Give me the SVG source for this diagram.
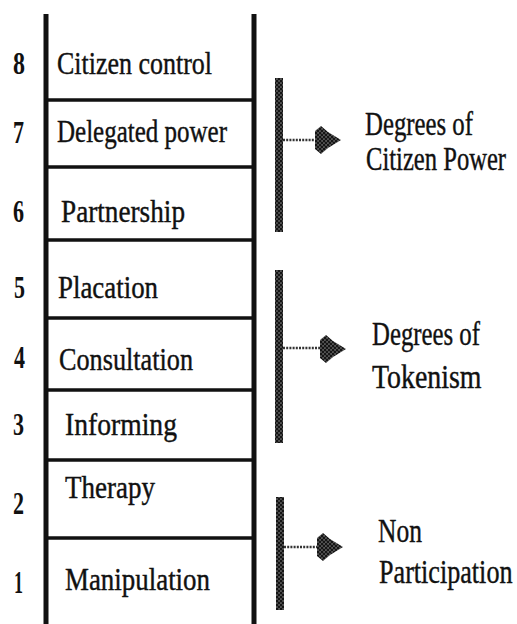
<svg xmlns="http://www.w3.org/2000/svg" width="517" height="624" viewBox="0 0 517 624">
  <style>
    .t { font-family: "Liberation Serif", "Times New Roman", serif; font-size: 31px; fill: #111; stroke: #111; stroke-width: 0.4; }
    .n { font-family: "Liberation Serif", "Times New Roman", serif; font-size: 31px; font-weight: bold; fill: #111; }
    .r { font-family: "Liberation Serif", "Times New Roman", serif; font-size: 33px; fill: #111; stroke: #111; stroke-width: 0.4; }
    .rail { stroke: #111; stroke-width: 5; }
    .rung { stroke: #111; stroke-width: 3.5; }
    .dash { stroke: #333; stroke-width: 2.5; stroke-dasharray: 2 1.2; fill: none; }
  </style>
  <defs>
    <pattern id="dots" width="4" height="4" patternUnits="userSpaceOnUse">
      <rect width="4" height="4" fill="#555"/>
      <circle cx="1" cy="1" r="1.3" fill="#151515"/>
      <circle cx="3" cy="3" r="1.3" fill="#151515"/>
    </pattern>
    <path id="head" d="M0,-9 L6,-14 L13,-8 L26,0 L13,8 L6,14 L0,9 Z" fill="url(#dots)"/>
  </defs>
  <rect width="517" height="624" fill="#fff"/>

  <g id="ladder">
    <line class="rail" x1="46" y1="14" x2="46" y2="624"/>
    <line class="rail" x1="254" y1="14" x2="254" y2="624"/>
    <line class="rung" x1="46" y1="100" x2="254" y2="100"/>
    <line class="rung" x1="46" y1="167" x2="254" y2="167"/>
    <line class="rung" x1="46" y1="240" x2="254" y2="240"/>
    <line class="rung" x1="46" y1="318" x2="254" y2="318"/>
    <line class="rung" x1="46" y1="390" x2="254" y2="390"/>
    <line class="rung" x1="46" y1="460" x2="254" y2="460"/>
    <line class="rung" x1="46" y1="538" x2="254" y2="538"/>
  </g>

  <g id="rung8"><text class="n" x="13" y="74" textLength="12" lengthAdjust="spacingAndGlyphs">8</text><text class="t" x="57" y="74" textLength="155" lengthAdjust="spacingAndGlyphs">Citizen control</text></g>
  <g id="rung7"><text class="n" x="13" y="143" textLength="11" lengthAdjust="spacingAndGlyphs">7</text><text class="t" x="57" y="142" textLength="170" lengthAdjust="spacingAndGlyphs">Delegated power</text></g>
  <g id="rung6"><text class="n" x="13" y="222" textLength="11" lengthAdjust="spacingAndGlyphs">6</text><text class="t" x="61" y="222" textLength="124" lengthAdjust="spacingAndGlyphs">Partnership</text></g>
  <g id="rung5"><text class="n" x="14" y="298" textLength="11" lengthAdjust="spacingAndGlyphs">5</text><text class="t" x="58" y="298" textLength="100" lengthAdjust="spacingAndGlyphs">Placation</text></g>
  <g id="rung4"><text class="n" x="14" y="368" textLength="11" lengthAdjust="spacingAndGlyphs">4</text><text class="t" x="59" y="370" textLength="134" lengthAdjust="spacingAndGlyphs">Consultation</text></g>
  <g id="rung3"><text class="n" x="13" y="435" textLength="11" lengthAdjust="spacingAndGlyphs">3</text><text class="t" x="65" y="435" textLength="112" lengthAdjust="spacingAndGlyphs">Informing</text></g>
  <g id="rung2"><text class="n" x="13" y="514" textLength="11" lengthAdjust="spacingAndGlyphs">2</text><text class="t" x="65" y="498" textLength="90" lengthAdjust="spacingAndGlyphs">Therapy</text></g>
  <g id="rung1"><text class="n" x="14" y="593" textLength="9" lengthAdjust="spacingAndGlyphs">1</text><text class="t" x="65" y="590" textLength="145" lengthAdjust="spacingAndGlyphs">Manipulation</text></g>

  <g id="citizen-power">
    <text class="r" transform="translate(365,135) scale(0.75,1)" textLength="144" lengthAdjust="spacingAndGlyphs">Degrees of</text>
    <text class="r" transform="translate(366,170) scale(0.745,1)" textLength="188" lengthAdjust="spacingAndGlyphs">Citizen Power</text>
  </g>
  <g id="tokenism">
    <text class="r" transform="translate(372,345) scale(0.75,1)" textLength="144" lengthAdjust="spacingAndGlyphs">Degrees of</text>
    <text class="r" transform="translate(372,388) scale(0.83,1)" textLength="132" lengthAdjust="spacingAndGlyphs">Tokenism</text>
  </g>
  <g id="non-participation">
    <text class="r" transform="translate(378,542) scale(0.77,1)" textLength="57" lengthAdjust="spacingAndGlyphs">Non</text>
    <text class="r" transform="translate(379,583) scale(0.79,1)" textLength="169" lengthAdjust="spacingAndGlyphs">Participation</text>
  </g>

  <g id="connectors">
    <rect x="275" y="78" width="8" height="154" fill="url(#dots)"/>
    <line class="dash" x1="283" y1="140" x2="316" y2="140"/>
    <use href="#head" x="315" y="140"/>
    <rect x="275" y="270" width="8" height="173" fill="url(#dots)"/>
    <line class="dash" x1="283" y1="348" x2="321" y2="348"/>
    <use href="#head" x="320" y="349"/>
    <rect x="276" y="497" width="8" height="113" fill="url(#dots)"/>
    <line class="dash" x1="284" y1="547" x2="318" y2="547"/>
    <use href="#head" x="317" y="547"/>
  </g>
</svg>
